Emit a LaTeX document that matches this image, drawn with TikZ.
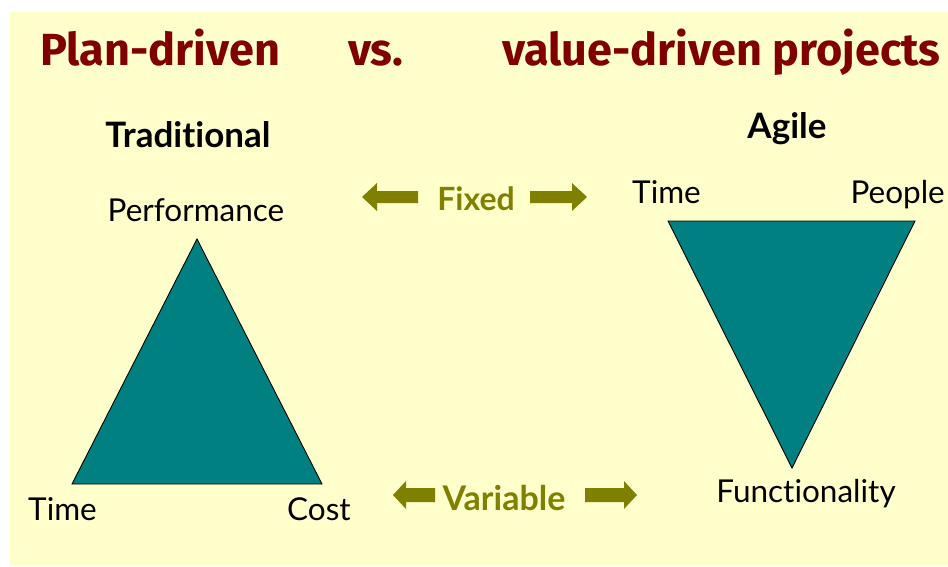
\documentclass[tikz,border=0pt]{standalone}
\usepackage{fontspec}
\setmainfont{Lato}[Ligatures=NoCommon]
\newfontfamily\titlefont{Fira Sans}
\begin{document}
\definecolor{paper}{HTML}{FFFFCC}
\definecolor{titlered}{HTML}{800000}
\definecolor{tealfill}{HTML}{008080}
\definecolor{olivearrow}{HTML}{808000}
\begin{tikzpicture}[x=1pt,y=-1pt,
  titletext/.style={font=\titlefont\bfseries\fontsize{45}{45}\selectfont, text=titlered, inner sep=0pt},
  cornerlabel/.style={font=\fontsize{31.5}{31.5}\selectfont, inner sep=0pt},
  heading/.style={font=\bfseries\fontsize{35}{35}\selectfont, inner sep=0pt},
  rangelabel/.style={font=\bfseries\fontsize{32}{32}\selectfont, text=olivearrow, inner sep=0pt},
  tri/.style={fill=tealfill, draw=black, line width=0.9pt, line join=miter},
  blockarrow/.style={fill=olivearrow, draw=none}]
% page and slide background
\fill[white] (0,0) rectangle (948,566);
\fill[paper] (10,12) rectangle (948,566);
\useasboundingbox (0,0) rectangle (948,566);

% title line
\node[titletext, anchor=base west] (t1) at (40,65) {Plan-driven};
\node[titletext, anchor=base west] (t2) at (348,65) {vs.};
\node[titletext, anchor=base west] (t3) at (502,65) {value-driven projects};

% traditional triangle
\node[heading, anchor=base] (trad) at (188,147) {Traditional};
\node[cornerlabel, anchor=base] (perf) at (196,221) {Performance};
\coordinate (ltop) at (197,239);
\coordinate (lbl) at (72,484);
\coordinate (lbr) at (322,484);
\draw[tri] (ltop) -- (lbl) -- (lbr) -- cycle;
\node[cornerlabel, anchor=base west] (ltime) at (28,520) {Time};
\node[cornerlabel, anchor=base west] (lcost) at (287,520) {Cost};

% agile triangle
\node[heading, anchor=base] (agile) at (787,138) {Agile};
\node[cornerlabel, anchor=base west] (rtime) at (632,203) {Time};
\node[cornerlabel, anchor=base east] (rpeople) at (945,203) {People};
\coordinate (rtl) at (668,221);
\coordinate (rtr) at (915,221);
\coordinate (rbot) at (792,468);
\draw[tri] (rtl) -- (rtr) -- (rbot) -- cycle;
\node[cornerlabel, anchor=base] (func) at (806,502) {Functionality};

% fixed / variable block arrows
\node[rangelabel, anchor=base] (fixed) at (476,210) {Fixed};
\fill[blockarrow] (362,197) -- (377,183) -- (377,191) -- (418,191) -- (418,203) -- (377,203) -- (377,211) -- cycle;
\fill[blockarrow] (587,197) -- (572,183) -- (572,191) -- (530,191) -- (530,203) -- (572,203) -- (572,211) -- cycle;

\node[rangelabel, font=\bfseries\fontsize{34}{34}\selectfont, anchor=base] (variable) at (504,510) {Variable};
\fill[blockarrow] (393,495) -- (406,481) -- (406,488) -- (435,488) -- (435,502) -- (406,502) -- (406,509) -- cycle;
\fill[blockarrow] (637,495) -- (624,481) -- (624,488) -- (585,488) -- (585,502) -- (624,502) -- (624,509) -- cycle;
\end{tikzpicture}
\end{document}
